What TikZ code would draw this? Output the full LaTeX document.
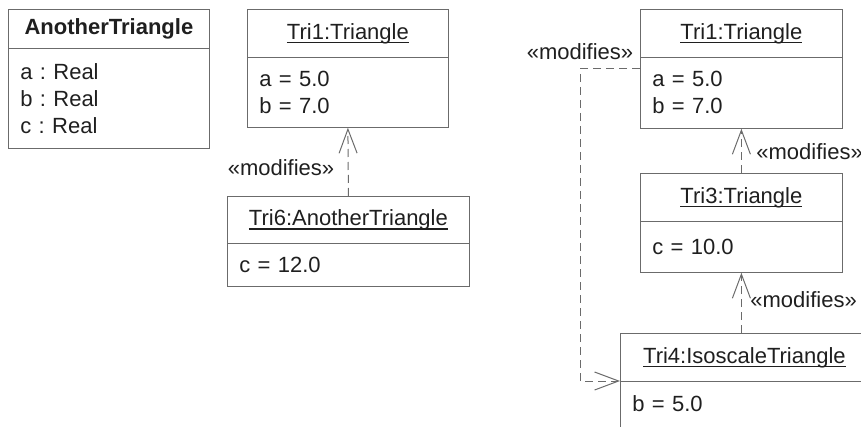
\documentclass[tikz,border=0pt]{standalone}
\usepackage{fontspec}
\setmainfont{Liberation Sans}
\usepackage{tikz}
\usepackage{xcolor}
\definecolor{BoxGray}{rgb}{0.42,0.42,0.42}
\definecolor{DarkText}{rgb}{0.12,0.12,0.12}
\usetikzlibrary{arrows.meta}
\frenchspacing
\newcommand{\objname}[1]{\setbox0\hbox{#1}\rlap{\rule[-2pt]{\wd0}{0.6pt}}\box0}

\begin{document}
\begin{tikzpicture}[x=0.5pt, y=-0.5pt, font=\fontsize{11}{13.5}\selectfont, text=DarkText,
  head/.style={draw=BoxGray, anchor=north west, inner sep=0pt, align=center},
  body/.style={draw=BoxGray, anchor=north west, inner xsep=6pt, inner ysep=0pt, align=left},
  stereo/.style={inner sep=0pt},
  dep/.style={draw=BoxGray, line width=0.5pt, dash pattern=on 4pt off 2.5pt, -{Straight Barb[length=12pt,width=9pt]}}]

\useasboundingbox (0, 0) rectangle (861, 427);
\clip (0, 0) rectangle (861, 427);

% class
\node[head, minimum width=100.5pt, minimum height=19.5pt] (anotherHead) at (8, 9) {\bfseries AnotherTriangle};
\node[body, text width=88.5pt, minimum height=50pt] (anotherBody) at (8, 48) {a : Real\\b : Real\\c : Real};

% objects, middle
\node[head, minimum width=100.5pt, minimum height=24pt] (tri1aHead) at (247, 9) {\objname{Tri1:Triangle}};
\node[body, text width=88.5pt, minimum height=35pt] (tri1aBody) at (247, 57) {a = 5.0\\b = 7.0};
\node[head, minimum width=121pt, minimum height=23.5pt] (tri6Head) at (227, 196) {\objname{Tri6:AnotherTriangle}};
\node[body, text width=109pt, minimum height=21.5pt] (tri6Body) at (227, 243) {c = 12.0};

% objects, right
\node[head, minimum width=101pt, minimum height=24pt] (tri1bHead) at (640, 9) {\objname{Tri1:Triangle}};
\node[body, text width=89pt, minimum height=35.5pt] (tri1bBody) at (640, 57) {a = 5.0\\b = 7.0};
\node[head, minimum width=101pt, minimum height=24pt] (tri3Head) at (640, 173) {\objname{Tri3:Triangle}};
\node[body, text width=89pt, minimum height=25.5pt] (tri3Body) at (640, 221) {c = 10.0};
\node[head, minimum width=124pt, minimum height=24pt] (tri4Head) at (620, 333) {\objname{Tri4:IsoscaleTriangle}};
\node[body, text width=112pt, minimum height=35.5pt, text depth=13.5pt] (tri4Body) at (620, 381) {b = 5.0};

% dependencies
\draw[dep] (tri6Head.north) -- (tri1aBody.south);
\node[stereo] (modA) at (281, 168) {«modifies»};
\draw[dep] (tri3Head.north) -- (tri1bBody.south);
\node[stereo, anchor=west] (modB) at (756, 152) {«modifies»};
\draw[dep] (tri3Body.south |- tri4Head.north) -- (tri3Body.south);
\node[stereo, anchor=west] (modC) at (750, 300) {«modifies»};
\draw[dep] ([yshift=-6pt]tri1bBody.north west) -| ([xshift=-20pt]tri4Body.north west) -- (tri4Body.north west);
\node[stereo] (modD) at (580, 52) {«modifies»};
\end{tikzpicture}
\end{document}
